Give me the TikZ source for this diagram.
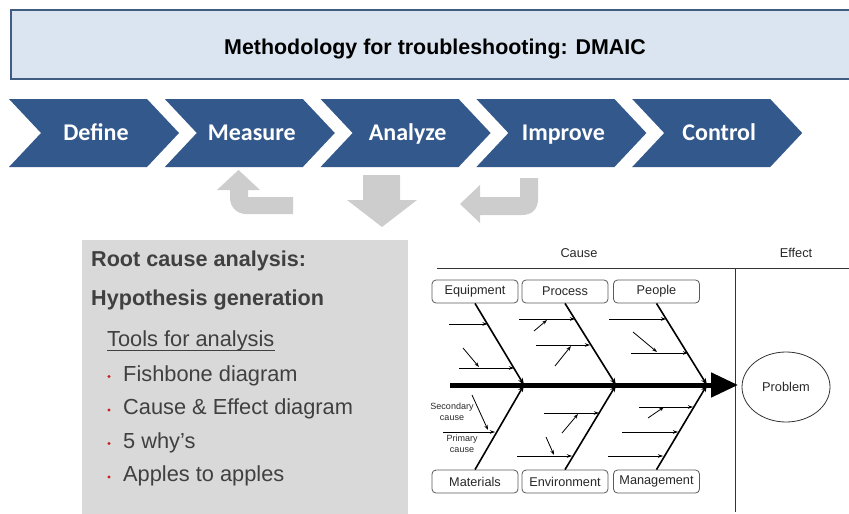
\documentclass[tikz,border=0pt]{standalone}
\usepackage{fontspec}
\setmainfont{Liberation Sans}
\newfontfamily\carlito{Carlito}
\usetikzlibrary{arrows.meta,shapes.geometric,calc}
\definecolor{hdrfill}{RGB}{219,229,241}
\definecolor{hdrline}{RGB}{64,92,128}
\definecolor{chev}{RGB}{50,88,140}
\definecolor{agray}{RGB}{205,205,205}
\definecolor{pgray}{RGB}{217,217,217}
\definecolor{ptext}{RGB}{64,64,64}
\definecolor{bred}{RGB}{200,30,30}
\definecolor{fbtext}{RGB}{40,40,40}
\definecolor{fbframe}{RGB}{90,90,90}
\tikzset{
  chevlabel/.style={text=white,font=\carlito\bfseries\fontsize{24}{27}\selectfont,anchor=base,inner sep=0pt},
  paneltitle/.style={text=ptext,font=\bfseries\fontsize{21.6}{25}\selectfont,anchor=base west,inner sep=0pt},
  paneltext/.style={text=ptext,font=\fontsize{21.8}{25}\selectfont,anchor=base west,inner sep=0pt},
  fbbox/.style={draw=fbframe,line width=0.8pt,rounded corners=4pt,fill=white,minimum width=86pt,minimum height=23pt,inner sep=0pt,text=fbtext,font=\fontsize{12.7}{14}\selectfont},
  fblabel/.style={text=fbtext,font=\fontsize{12.8}{15}\selectfont,inner sep=0pt},
  smalllabel/.style={text=fbtext,font=\fontsize{9}{11}\selectfont,align=center,inner sep=0pt},
  bone/.style={line width=1.6pt,-{Stealth[length=7pt,width=5pt]}},
  causearrow/.style={line width=0.8pt,-{Stealth[length=5pt,width=3.5pt]}},
  frameline/.style={line width=0.8pt,draw=black!80}
}
\begin{document}
\begin{tikzpicture}[x=1pt,y=-1pt]
\useasboundingbox (0,0) rectangle (849,514);
% header
\draw[draw=hdrline,line width=2pt,fill=hdrfill] (11,10) rectangle (853,79);
\node[font=\bfseries\fontsize{21.4}{25}\selectfont,anchor=base,inner sep=0pt] (title) at (435,54) {Methodology for troubleshooting: DMAIC};
% chevrons
\foreach \i/\t in {0/Define,1/Measure,2/Analyze,3/Improve,4/Control} {
  \pgfmathsetmacro\xo{9+155.8*\i}
  \fill[chev] (\xo,99) -- (\xo+138,99) -- (\xo+170,133) -- (\xo+138,167) -- (\xo,167) -- (\xo+32,133) -- cycle;
  \node[chevlabel] (\t) at (\xo+87,140.5) {\t};
}
% gray arrows
\fill[agray] (217,190) -- (238.5,170) -- (260,190) -- (248,190) -- (248,197) -- (293,197) -- (293,214) -- (246,214) .. controls (237,214) and (230,207) .. (230,198) -- (230,190) -- cycle;
\fill[agray] (363,175) -- (400,175) -- (400,200) -- (417,200) -- (382,227) -- (347,200) -- (363,200) -- cycle;
\fill[agray] (460,204) -- (480,185) -- (480,197) -- (520,197) -- (520,178) -- (538,178) -- (538,199) .. controls (538,209) and (532,215) .. (522,215) -- (480,215) -- (480,223) -- cycle;
% left panel
\fill[pgray] (82,240) rectangle (408,515);
\node[paneltitle] (rca) at (91,266) {Root cause analysis:};
\node[paneltitle] (hyp) at (91,305) {Hypothesis generation};
\node[paneltext] (tools) at (107,346.5) {Tools for analysis};
\draw[ptext,line width=1pt] ($(tools.base west)+(0,3.5)$) -- ($(tools.base east)+(0,3.5)$);
\foreach \n/\y/\t in {b1/381/Fishbone diagram,b2/414.5/Cause \& Effect diagram,b3/448/5 why’s,b4/481.5/Apples to apples} {
  \fill[bred] (109,\y-4.5) circle[radius=1.6pt];
  \node[paneltext] (\n) at (123,\y) {\t};
}
% fishbone frame
\coordinate (hl) at (437,268);
\coordinate (hr) at (853,268);
\coordinate (vt) at (735,268);
\coordinate (vb) at (735,512);
\draw[frameline] (hl) -- (hr);
\draw[frameline] (vt) -- (vb);
\node[fblabel] (cause) at (579,253) {Cause};
\node[fblabel] (effect) at (796,253) {Effect};
% boxes
\node[fbbox] (Equipment) at (475,291.5) {Equipment};
\node[fbbox] (Process) at (565,291.5) {Process};
\node[fbbox] (People) at (656.5,291.5) {People};
\node[fbbox] (Materials) at (475,481.5) {Materials};
\node[fbbox] (Environment) at (565,481.5) {Environment};
\node[fbbox] (Management) at (656.5,481.5) {Management};
\node[draw=black!80,line width=0.8pt,ellipse,minimum width=88pt,minimum height=70pt,inner sep=0pt,text=fbtext,font=\fontsize{12.8}{15}\selectfont] (Problem) at (786,387) {Problem};
% spine
\coordinate (tail) at (450,385);
\coordinate (head) at (738,385);
\draw[line width=5pt,-{Triangle[length=27pt,width=24pt]}] (tail) -- (head);
\coordinate (j1) at (524,385);
\coordinate (j2) at (616,385);
\coordinate (j3) at (707,385);
\draw[bone] (Equipment.south) -- (j1);
\draw[bone] (Process.south) -- (j2);
\draw[bone] (People.south) -- (j3);
\draw[bone] (Materials.north) -- (j1);
\draw[bone] (Environment.north) -- (j2);
\draw[bone] (Management.north) -- (j3);
% cause arrows
\foreach \n/\ax/\ay/\bx/\by in {
  a1/449/324/487.5/324, a2/459/368/514/368, a3/463/348/479/367,
  a4/519/319/575/319, a5/534/331/547/320, a6/536/345/590/345, a7/555/366/571/346,
  a8/609/319/666/319, a9/633/332/657/352, a10/631/353/688/353,
  a11/443/432/495/432, a12/472/395/488/430,
  a13/544/413/599/413, a14/562/433/578/414, a15/517/456/572/456, a16/546/437/554/455,
  a17/639/407/693/407, a18/648/418/664/407, a19/622/432/678/432, a20/608/456/663/456} {
  \coordinate (\n s) at (\ax,\ay);
  \coordinate (\n e) at (\bx,\by);
  \draw[causearrow] (\n s) -- (\n e);
}
\node[smalllabel] (secondary) at (452,411.5) {Secondary\\cause};
\node[smalllabel] (primary) at (462,443.5) {Primary\\cause};
\end{tikzpicture}
\end{document}
